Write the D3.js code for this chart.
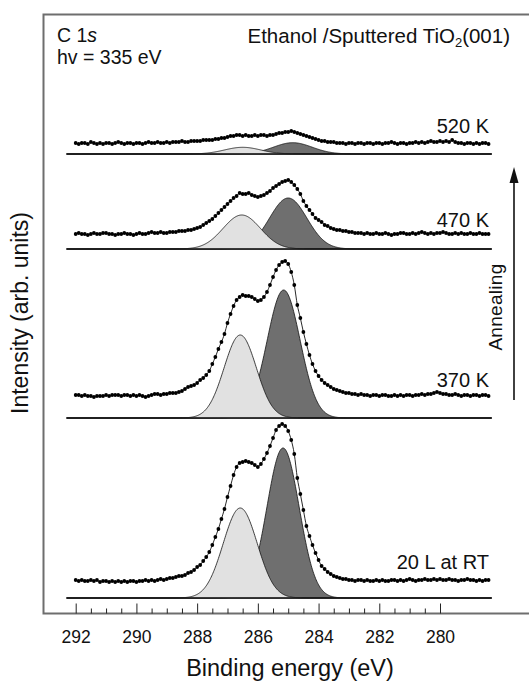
<!DOCTYPE html>
<html>
<head>
<meta charset="utf-8">
<script src="https://cdn.jsdelivr.net/npm/d3@7"></script>
<style>
  html, body { margin: 0; padding: 0; background: #fff; }
  svg { display: block; }
  text { font-family: "Liberation Sans", Arial, Helvetica, sans-serif; fill: #111; }
</style>
</head>
<body>
<svg id="chart" width="529" height="684"></svg>
<script>
// Binding-energy grid of the C 1s scans (eV), high to low
const energyStart = 292.0;
const energyStep = 0.1;

// Spectrum names, bottom to top
const spectrumLabels = ["20 L at RT", "370 K", "470 K", "520 K"];
// Vertical offset of each spectrum's background line (arb. units)
const spectrumOffsets = [16, 196, 365, 460];

// Measured intensities above the background line (arb. units)
const intensityRT = [
  18,17,18,17,17,18,17,18,16,17,
  17,16,17,16,17,16,17,16,17,17,
  16,17,17,18,17,18,17,18,19,18,
  19,20,20,21,22,22,23,25,26,28,
  31,33,37,41,46,53,61,69,79,89,
  101,112,123,131,135,136,137,136,135,133,
  131,134,139,145,152,160,168,172,174,172,
  167,158,144,120,104,88,72,62,53,45,
  38,32,29,26,24,22,21,20,19,19,
  18,18,17,18,18,17,18,17,17,18,
  17,18,17,17,18,18,17,18,17,18,
  19,18,17,18,18,19,18,18,19,18,
  19,18,18,19,18,18,17,18,18,19,
  18,18,17,18,17,18,18
];
const intensity370 = [
  23,23,22,23,22,22,21,22,22,22,
  23,22,23,23,23,22,23,23,22,23,
  22,23,22,21,22,23,24,24,23,24,
  24,25,25,25,26,27,29,31,32,33,
  35,38,40,43,47,54,61,69,76,84,
  95,104,112,118,121,123,122,122,121,119,
  117,118,121,126,133,141,148,153,156,157,
  154,146,133,113,100,86,74,63,54,47,
  42,38,35,33,31,29,28,27,26,25,
  25,24,24,23,24,23,23,22,23,23,
  22,23,23,22,22,23,22,23,22,23,
  23,22,23,23,24,23,24,24,25,26,
  25,24,24,23,23,24,23,22,23,23,
  22,23,23,22,23,23,22
];
const intensity470 = [
  15,16,15,15,14,15,16,15,15,16,
  16,15,15,14,15,15,16,15,15,14,
  15,16,15,15,16,17,16,16,17,16,
  16,17,17,17,18,18,18,19,19,20,
  21,22,24,26,28,30,33,36,39,42,
  45,48,51,53,56,55,55,56,54,53,
  52,53,54,56,58,61,63,65,67,68,
  69,67,64,60,55,48,43,39,35,31,
  29,27,24,23,21,20,19,19,18,18,
  17,17,16,16,16,15,16,15,15,16,
  15,15,16,15,14,15,15,16,16,15,
  15,16,15,16,17,16,15,16,15,16,
  16,17,16,15,15,16,15,16,15,15,
  16,15,15,16,15,15,15
];
const intensity520 = [
  11,10,11,11,10,12,11,10,11,10,
  11,11,10,11,12,11,10,11,11,10,
  11,11,10,11,12,11,11,12,11,11,
  12,11,12,12,12,13,12,12,13,13,
  13,13,14,14,14,14,15,15,16,16,
  17,18,18,19,19,18,19,18,18,19,
  18,19,19,18,19,19,20,21,21,22,
  22,23,22,21,20,19,18,17,16,15,
  14,13,13,12,12,12,11,11,11,10,
  11,11,10,11,11,10,11,11,10,11,
  11,10,11,11,12,11,10,11,11,10,
  11,11,12,11,12,11,12,13,12,12,
  13,12,13,12,14,12,11,11,10,11,
  11,10,11,10,11,11,10
];
const spectra = [intensityRT, intensity370, intensity470, intensity520];

// Fitted components (Gaussian): higher-BE peak (light) and lower-BE peak (dark)
const lightCenter = [286.58, 286.58, 286.53, 286.50];
const lightHeight = [90, 83, 34, 6.7];
const lightFwhm   = [1.32, 1.25, 1.45, 1.40];
const darkCenter  = [285.17, 285.15, 285.00, 284.85];
const darkHeight  = [150, 128, 51, 11.3];
const darkFwhm    = [1.25, 1.28, 1.45, 1.50];

// Axis ticks (eV)
const majorTicks = [292, 290, 288, 286, 284, 282, 280];
const minorTicks = [291.5, 291, 290.5, 289.5, 289, 288.5, 287.5, 287, 286.5,
                    285.5, 285, 284.5, 283.5, 283, 282.5, 281.5, 281, 280.5];

// Energy span of the background lines and fitted curves
const fitRange = [292.3, 278.3];

const svg = d3.select("#chart");
const FONT = '"Liberation Sans", Arial, Helvetica, sans-serif';

const x = d3.scaleLinear().domain([292, 280]).range([75.7, 440]);
const y = d3.scaleLinear().domain([0, 600]).range([614, 14]);

// frame (open on the right)
svg.append("path")
  .attr("d", `M529,14.5H43.5V613.5H529`)
  .attr("fill", "none")
  .attr("stroke", "#6e6e6e")
  .attr("stroke-width", 2);

// bottom axis: major ticks with labels, minor ticks without
const axisY = 613.5;
const majorAxis = d3.axisBottom(x)
  .tickValues(majorTicks)
  .tickFormat(d3.format("d"))
  .tickSizeInner(-10)
  .tickSizeOuter(0)
  .tickPadding(17);
const gMajor = svg.append("g").attr("transform", `translate(0,${axisY})`).call(majorAxis);
gMajor.select(".domain").remove();
gMajor.selectAll("line").attr("stroke", "#222").attr("stroke-width", 1);
gMajor.selectAll("text").attr("font-family", FONT).attr("font-size", 17.5).attr("fill", "#111");

const minorAxis = d3.axisBottom(x)
  .tickValues(minorTicks)
  .tickFormat("")
  .tickSizeInner(-5)
  .tickSizeOuter(0);
const gMinor = svg.append("g").attr("transform", `translate(0,${axisY})`).call(minorAxis);
gMinor.select(".domain").remove();
gMinor.selectAll("line").attr("stroke", "#222").attr("stroke-width", 1);

// axis titles
svg.append("text")
  .attr("x", 290).attr("y", 676)
  .attr("text-anchor", "middle")
  .attr("font-size", 23.5)
  .text("Binding energy (eV)");

svg.append("text")
  .attr("transform", "translate(28,313) rotate(-90)")
  .attr("text-anchor", "middle")
  .attr("font-size", 23)
  .text("Intensity (arb. units)");

// spectra
const gauss = (e, c, h, w) => h * Math.exp(-4 * Math.LN2 * (e - c) * (e - c) / (w * w));
const fineGrid = d3.range(fitRange[0], fitRange[1] - 1e-9, -0.02);

spectra.forEach((vals, k) => {
  const base = spectrumOffsets[k];
  const g = svg.append("g");

  const area = fn => d3.area()
    .x(e => x(e))
    .y0(y(base))
    .y1(e => y(base + fn(e)))
    .curve(d3.curveLinear)(fineGrid);

  // dark component first, light component on top
  g.append("path")
    .attr("d", area(e => gauss(e, darkCenter[k], darkHeight[k], darkFwhm[k])))
    .attr("fill", "#6f6f6f")
    .attr("stroke", "#111")
    .attr("stroke-width", 0.8);
  g.append("path")
    .attr("d", area(e => gauss(e, lightCenter[k], lightHeight[k], lightFwhm[k])))
    .attr("fill", "#e1e1e1")
    .attr("stroke", "#111")
    .attr("stroke-width", 0.8);

  // background line
  g.append("line")
    .attr("x1", x(fitRange[0])).attr("x2", x(fitRange[1]))
    .attr("y1", y(base)).attr("y2", y(base))
    .attr("stroke", "#1a1a1a")
    .attr("stroke-width", 1.3);

  const pts = vals.map((v, i) => [x(energyStart - energyStep * i), y(base + v)]);

  // envelope through the measured points
  g.append("path")
    .attr("d", d3.line().curve(d3.curveMonotoneX)(pts))
    .attr("fill", "none")
    .attr("stroke", "#111")
    .attr("stroke-width", 0.9);

  g.selectAll("circle")
    .data(pts)
    .join("circle")
    .attr("cx", d => d[0])
    .attr("cy", d => d[1])
    .attr("r", 1.9)
    .attr("fill", "#000");
});

// spectrum labels
const labelBaselines = [569, 387, 227, 133];
spectrumLabels.forEach((t, k) => {
  svg.append("text")
    .attr("x", 489).attr("y", labelBaselines[k])
    .attr("text-anchor", "end")
    .attr("font-size", 20)
    .text(t);
});

// header texts
const h1 = svg.append("text").attr("x", 57).attr("y", 42).attr("font-size", 19.5);
h1.append("tspan").text("C 1");
h1.append("tspan").attr("font-style", "italic").text("s");
svg.append("text").attr("x", 57).attr("y", 64).attr("font-size", 19.5).text("hv = 335 eV");

const title = svg.append("text").attr("x", 510).attr("y", 43)
  .attr("text-anchor", "end").attr("font-size", 20.5);
title.append("tspan").text("Ethanol /Sputtered TiO");
title.append("tspan").attr("font-size", 13).attr("dy", 4).text("2");
title.append("tspan").attr("dy", -4).text("(001)");

// annealing arrow
const ax = 514;
svg.append("line")
  .attr("x1", ax).attr("x2", ax)
  .attr("y1", 400).attr("y2", 180)
  .attr("stroke", "#111").attr("stroke-width", 1.6);
svg.append("path")
  .attr("d", `M${ax},167L${ax - 4.5},183L${ax + 4.5},183Z`)
  .attr("fill", "#111");
svg.append("text")
  .attr("transform", "translate(502,307) rotate(-90)")
  .attr("text-anchor", "middle")
  .attr("font-size", 19)
  .attr("letter-spacing", 0.3)
  .text("Annealing");
</script>
</body>
</html>
